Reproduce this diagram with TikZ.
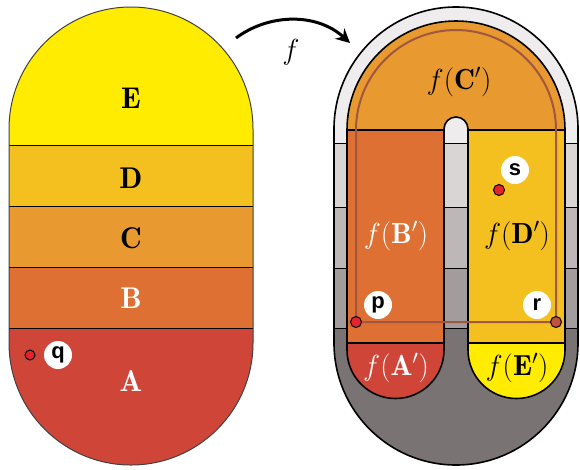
\RequirePackage{fix-cm}
\documentclass[tikz,border=0pt]{standalone}
\usepackage{amsmath}
\usepackage{fontspec}
\usepackage{tikz}
\usetikzlibrary{arrows.meta}
\usetikzlibrary{calc}
\newfontfamily\ptfont{Liberation Sans}
\definecolor{colE}{HTML}{FFEC00}
\definecolor{colD}{HTML}{F4C020}
\definecolor{colC}{HTML}{E89A30}
\definecolor{colB}{HTML}{DE7033}
\definecolor{colA}{HTML}{CF4639}
\definecolor{ringA}{HTML}{EEECEC}
\definecolor{ringB}{HTML}{DAD5D5}
\definecolor{ringC}{HTML}{BDB7B7}
\definecolor{ringD}{HTML}{A29C9C}
\definecolor{ringE}{HTML}{7A7373}
\definecolor{loopbrown}{HTML}{A1573F}
\definecolor{dotred}{HTML}{E5232A}
\definecolor{dotbrown}{HTML}{C0533A}
\tikzset{x=1pt, y=1pt, every text node part/.style={align=center}}
\tikzstyle{region} = [draw=black, line width=1.6pt]
\tikzstyle{sep} = [draw=black, line width=1pt]
\tikzstyle{pt} = [circle, draw=black, line width=1pt, fill=dotred, inner sep=0pt, minimum size=11pt]
\tikzstyle{ptlabel} = [circle, fill=white, inner sep=0pt, minimum size=28pt, font={\ptfont\bfseries\fontsize{22}{22}\selectfont}]
\tikzstyle{bigletter} = [font={\fontsize{30}{34}\selectfont}]
\tikzstyle{imglabel} = [font={\fontsize{29}{32}\selectfont}]
\def\leftpill{(9,-129) arc (180:0:122) -- (253,-343) arc (0:-180:122) -- cycle}
\def\rightpill{(334,-129) arc (180:0:122) -- (578,-343) arc (0:-180:122) -- cycle}

\begin{document}
\begin{tikzpicture}[]
  \useasboundingbox (0,0) rectangle (580,-469);
  % left pill, cut in bands
  \begin{scope}
    \clip \leftpill;
    \foreach \col/\ytop/\ybot in {colE/0/145, colD/145/206, colC/206/267, colB/267/328, colA/328/469}
      \fill[\col] (0,-\ytop) rectangle (260,-\ybot);
    \foreach \yy in {145,206,267,328}
      \draw[sep] (0,-\yy) -- (260,-\yy);
  \end{scope}
  \draw[line width=1pt, draw=black!75] \leftpill;
  \node[bigletter] (lblE) at (131,-98) {$\mathbf{E}$};
  \node[bigletter] (lblD) at (131,-178) {$\mathbf{D}$};
  \node[bigletter] (lblC) at (131,-238) {$\mathbf{C}$};
  \node[bigletter, white] (lblB) at (131,-298) {$\mathbf{B}$};
  \node[bigletter, white] (lblA) at (131,-381) {$\mathbf{A}$};
  \node[pt, minimum size=10pt] (qdot) at (30,-355) {};
  \node[ptlabel] (qlabel) at (58,-355) {q};

  % right pill, grey rim in bands
  \begin{scope}
    \clip \rightpill;
    \foreach \col/\ytop/\ybot in {ringA/0/143, ringB/143/207, ringC/207/268, ringD/268/328, ringE/328/469}
      \fill[\col] (330,-\ytop) rectangle (580,-\ybot);
    \foreach \yy in {143,207,268,328}
      \draw[sep] (330,-\yy) -- (580,-\yy);
  \end{scope}
  \draw[region] \rightpill;
  \draw[region, fill=colC] (347,-130) arc (180:0:109) -- cycle;
  \draw[region, fill=ringA] (444,-136) -- (444,-129) arc (180:0:12) -- (468,-136);
  \draw[region, fill=colB] (347,-130) rectangle (444,-343);
  \draw[region, fill=colA] (347,-343) -- (347,-350) arc (180:360:48.5) -- (444,-343) -- cycle;
  \draw[region, fill=colD] (468,-130) rectangle (565,-343);
  \draw[region, fill=colE] (468,-343) -- (468,-350) arc (180:360:48.5) -- (565,-343) -- cycle;
  \node[imglabel] (fC) at (459,-82) {$f(\mathbf{C}')$};
  \node[imglabel, white] (fB) at (396,-236) {$f(\mathbf{B}')$};
  \node[imglabel] (fD) at (517,-236) {$f(\mathbf{D}')$};
  \node[imglabel, white] (fA) at (396,-368) {$f(\mathbf{A}')$};
  \node[imglabel] (fE) at (517,-368) {$f(\mathbf{E}')$};

  % loop through p and r
  \coordinate (p) at (356,-322);
  \coordinate (r) at (556,-322);
  \draw[loopbrown, line width=2pt] (p) -- ($(p)+(0,192)$) arc (180:0:100) -- (r) -- cycle;
  \node[pt] (pdot) at (p) {};
  \node[pt, fill=dotbrown] (rdot) at (r) {};
  \node[pt] (sdot) at (499,-190) {};
  \node[ptlabel] (plabel) at (378,-305) {p};
  \node[ptlabel] (rlabel) at (537,-305) {r};
  \node[ptlabel] (slabel) at (515,-170) {s};

  % the map f
  \coordinate (fstart) at (236,-38);
  \coordinate (fend) at (350,-43);
  \draw[line width=3pt, -{Stealth[length=14pt, width=14pt]}] (fstart) .. controls (268,-14) and (316,-12) .. (fend);
  \node[imglabel] (flabel) at (291,-52) {$f$};
\end{tikzpicture}
\end{document}
